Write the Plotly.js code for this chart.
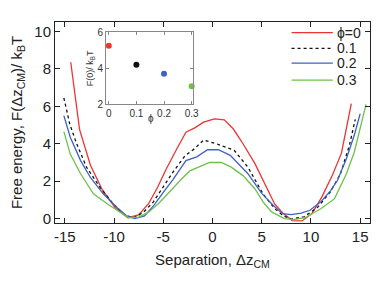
<!DOCTYPE html>
<html><head><meta charset="utf-8">
<script src="https://cdn.plot.ly/plotly-3.0.1.min.js"></script>
<style>body{margin:0;padding:0;background:#fff}#c{width:382px;height:295px}</style>
</head><body><div id="c"></div>
<script>
const seriesNames = ["ϕ=0", "0.1", "0.2", "0.3"];
const seriesColors = ["#ee3333", "#111111", "#3d62c4", "#6cc24a"];

const x0 = [-14.4,-13.5,-12.4,-11.2,-9.9,-8.6,-7.5,-6.5,-5.6,-4.7,-3.7,-2.7,-1.8,-0.9,0.2,1.2,2.1,3.1,4.3,5.3,6.3,7.2,8.1,9.1,10.1,11.1,12.2,13.1,14.1];
const y0 = [8.35,4.75,2.85,1.55,0.6,0.05,0.2,0.8,1.65,2.65,3.65,4.62,4.85,5.15,5.33,5.28,4.8,4.0,2.95,1.9,0.8,0.27,-0.1,-0.12,0.27,1.15,2.35,3.5,6.14];

const x1 = [-15.1,-14.5,-13.8,-12.8,-11.4,-10.1,-8.9,-8.0,-7.0,-6.0,-5.0,-4.0,-2.8,-1.8,-0.9,0.4,2.2,3.6,5.1,6.3,7.2,8.0,9.3,10.7,12.0,13.0,13.9,14.5];
const y1 = [6.45,5.05,4.0,2.75,1.65,0.8,0.18,0.05,0.35,0.9,1.7,2.5,3.35,3.75,4.2,4.0,3.65,2.75,1.35,0.55,0.15,-0.02,0.1,0.62,1.45,2.4,3.9,5.3];

const x2 = [-15.1,-14.45,-13.4,-12.4,-11.1,-9.7,-8.7,-7.9,-6.9,-5.9,-5.0,-4.0,-2.7,-1.6,-0.5,0.6,1.8,3.6,5.0,6.0,7.1,8.0,9.0,9.9,11.0,12.0,12.7,13.6,14.4,15.0];
const y2 = [5.5,4.35,3.1,2.2,1.33,0.6,0.15,0.0,0.15,0.75,1.4,2.1,3.1,3.3,3.68,3.68,3.38,2.4,1.35,0.8,0.27,0.22,0.3,0.45,0.9,1.5,2.05,3.2,4.45,5.6];

const x3 = [-15.1,-14.45,-13.4,-12.1,-10.7,-9.4,-8.5,-7.5,-6.5,-5.5,-4.3,-3.0,-2.3,-1.2,-0.3,0.9,1.9,3.1,4.3,5.2,6.0,7.3,8.2,9.4,11.0,12.4,13.6,14.4,15.1,15.6];
const y3 = [4.65,3.45,2.4,1.33,0.8,0.36,0.05,0.08,0.35,0.8,1.5,2.2,2.55,2.8,3.0,3.0,2.75,2.3,1.6,0.85,0.36,0.0,-0.05,0.05,0.53,1.07,2.4,3.55,5.0,6.1];

const insetPhi = [0, 0.1, 0.2, 0.3];
const insetF0 = [5.25, 4.2, 3.7, 3.0];

const xs = [x0, x1, x2, x3];
const ys = [y0, y1, y2, y3];
const dashes = ["solid", "dot", "solid", "solid"];

const traces = xs.map((x, i) => ({
  x: x, y: ys[i], type: "scatter", mode: "lines", name: seriesNames[i], showlegend: false,
  line: {color: seriesColors[i], width: 1.3, dash: dashes[i]},
  xaxis: "x", yaxis: "y"
}));
traces.push({
  x: insetPhi, y: insetF0, type: "scatter", mode: "markers", showlegend: false,
  marker: {color: seriesColors, size: 6},
  xaxis: "x2", yaxis: "y2", cliponaxis: false
});

// hand-placed legend (paper coordinates)
const legY = [0.947, 0.869, 0.795, 0.711];
const shapes = seriesNames.map((n, i) => ({
  type: "line", xref: "paper", yref: "paper", x0: 0.751, x1: 0.882, y0: legY[i], y1: legY[i],
  line: {color: seriesColors[i], width: 1.3, dash: dashes[i]}
}));
const F = "Liberation Sans, Arial, sans-serif";
const annotations = seriesNames.map((n, i) => ({
  text: n, xref: "paper", yref: "paper", x: 0.89, y: legY[i], xanchor: "left", yanchor: "middle",
  showarrow: false, font: {size: 14, family: F, color: "#222"}
}));
annotations.push({
  text: "ϕ", xref: "x2 domain", yref: "y2 domain", x: 0.52, y: -0.19, xanchor: "center", yanchor: "middle",
  showarrow: false, font: {size: 10, family: F, color: "#333"}
});

const layout = {
  width: 382, height: 295,
  margin: {l: 55, r: 12, t: 22, b: 72},
  paper_bgcolor: "#fff", plot_bgcolor: "#fff",
  font: {family: F, color: "#222"},
  showlegend: false,
  shapes: shapes, annotations: annotations,
  xaxis: {
    range: [-16, 16], tickvals: [-15,-10,-5,0,5,10,15], ticktext: ["-15","-10","-5","0","5","10","15"],
    ticks: "inside", ticklen: 5, tickcolor: "#222", mirror: "ticks", showline: true, linecolor: "#222", linewidth: 1,
    showgrid: false, zeroline: false, tickfont: {size: 15},
    title: {text: "Separation, Δz<sub>CM</sub>", font: {size: 15}, standoff: 10}
  },
  yaxis: {
    range: [-0.23, 10.5], tickvals: [0,2,4,6,8,10],
    ticks: "inside", ticklen: 5, tickcolor: "#222", mirror: "ticks", showline: true, linecolor: "#222", linewidth: 1,
    showgrid: false, zeroline: false, tickfont: {size: 15},
    title: {text: "Free energy, F(Δz<sub>CM</sub>)/ k<sub>B</sub>T", font: {size: 15}, standoff: 8}
  },
  xaxis2: {
    domain: [0.162, 0.439], anchor: "y2", range: [-0.01, 0.306],
    tickvals: [0, 0.1, 0.2, 0.3], ticktext: ["0","0.1","0.2","0.3"],
    ticks: "inside", ticklen: 3, tickcolor: "#888", mirror: "ticks", showline: true, linecolor: "#888",
    showgrid: false, zeroline: false, tickfont: {size: 10, color: "#333"}
  },
  yaxis2: {
    domain: [0.59, 0.949], anchor: "x2", range: [2, 6], tickvals: [2, 4, 6],
    ticks: "inside", ticklen: 3, tickcolor: "#888", mirror: "ticks", showline: true, linecolor: "#888",
    showgrid: false, zeroline: false, tickfont: {size: 10, color: "#333"},
    title: {text: "F(0)/ k<sub>B</sub>T", font: {size: 9, color: "#333"}, standoff: 2}
  }
};

Plotly.newPlot("c", traces, layout, {displayModeBar: false, staticPlot: true});
</script></body></html>
